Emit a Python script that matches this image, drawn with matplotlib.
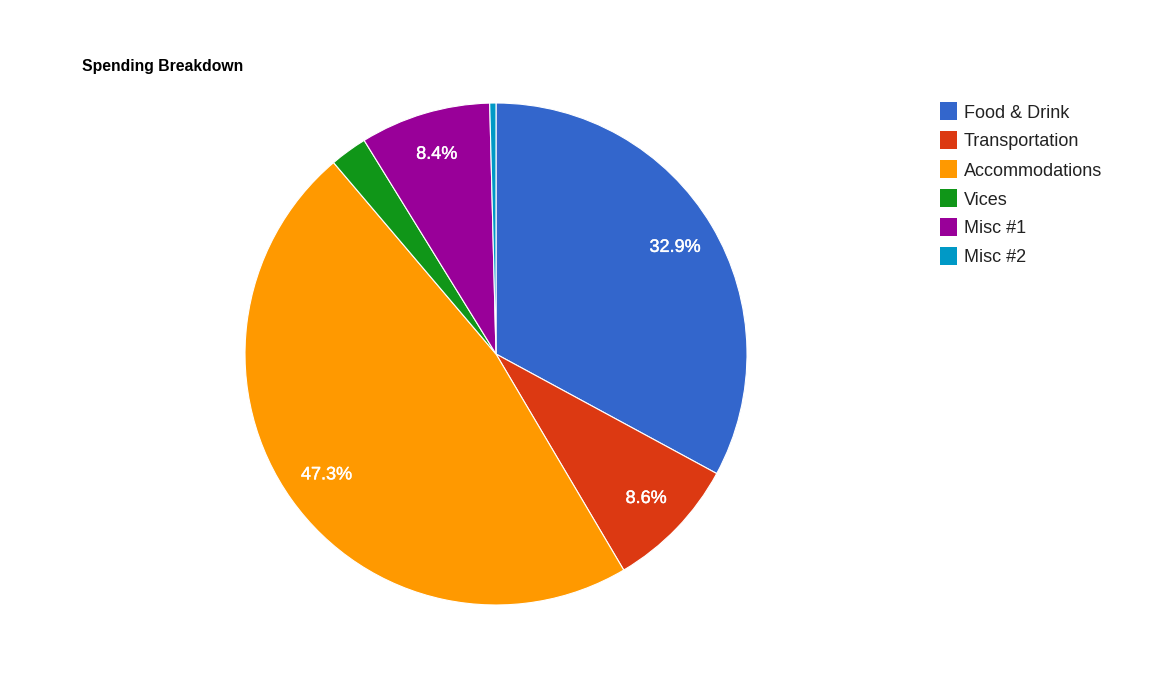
import matplotlib.pyplot as plt
import matplotlib.patheffects as pe
from matplotlib.patches import Rectangle

plt.rcParams['font.family'] = ['Liberation Sans', 'DejaVu Sans']

categories = ['Food & Drink', 'Transportation', 'Accommodations', 'Vices', 'Misc #1', 'Misc #2']
values = [32.9, 8.6, 47.3, 2.4, 8.4, 0.4]
colors = ['#3366cc', '#dc3912', '#ff9900', '#109618', '#990099', '#0099c6']

W, H = 1173, 679
fig = plt.figure(figsize=(W / 100, H / 100), dpi=100)

# pie centred at (496, 354) px, radius 251 px
cx, cy, r = 496, 354, 251
ax = fig.add_axes([(cx - r) / W, (H - cy - r) / H, 2 * r / W, 2 * r / H])


def fmt(p):
    return f'{p:.1f}%' if p > 5 else ''


wedges, texts, autotexts = ax.pie(values, colors=colors, startangle=90, counterclock=False,
                                  radius=1, autopct=fmt, pctdistance=0.83,
                                  wedgeprops=dict(edgecolor='white', linewidth=0.8),
                                  textprops=dict(color='white', fontsize=13))
for t in autotexts:
    t.set_path_effects([pe.withStroke(linewidth=0.3, foreground='white')])
ax.set_xlim(-1, 1)
ax.set_ylim(-1, 1)
ax.axis('off')

fig.text(82 / W, 1 - 67 / H, 'Spending Breakdown', fontsize=11.3, fontweight='bold',
         ha='left', va='center')

# legend
for i, (name, c) in enumerate(zip(categories, colors)):
    y = 111 + i * 29
    fig.patches.append(Rectangle((940 / W, 1 - (y + 9) / H), 17 / W, 18 / H,
                                 transform=fig.transFigure, facecolor=c, edgecolor='none'))
    fig.text(964 / W, 1 - y / H, name, fontsize=13, color='#222222', ha='left',
             va='center_baseline')

plt.savefig('out.png', dpi=100)
